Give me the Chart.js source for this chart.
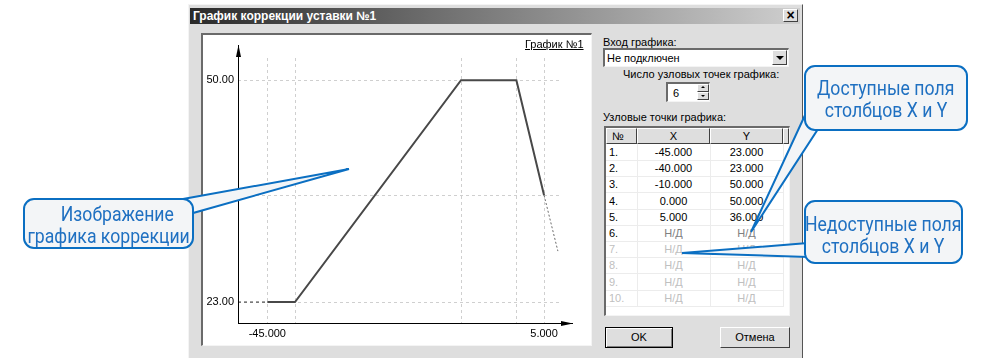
<!DOCTYPE html>
<html>
<head>
<meta charset="utf-8">
<script src="https://cdn.jsdelivr.net/npm/chart.js@4.4.1/dist/chart.umd.min.js"></script>
<style>
  html, body { margin: 0; padding: 0; background: #fff; overflow: hidden; }
  body { width: 982px; height: 358px; position: relative; font-family: "Liberation Sans", Arial, sans-serif; font-size: 11px; color: #000; }
  .abs { position: absolute; }
  .dlg { left: 188px; top: 4px; width: 613px; height: 360px; background: #dedede; border-top: 1px solid #f4f4f4; border-left: 1px solid #f4f4f4; border-right: 1px solid #555; }
  .title { left: 190px; top: 8px; width: 610px; height: 16px; background: linear-gradient(to right, #2a2a2a 0%, #6e6e6e 40%, #cfcfcf 100%); color: #fff; font-weight: bold; font-size: 12px; line-height: 16px; padding-left: 3px; box-sizing: border-box; }
  .raised { background: #dedede; border-top: 1px solid #fff; border-left: 1px solid #fff; border-right: 1px solid #404040; border-bottom: 1px solid #404040; box-sizing: border-box; }
  .sunken { background: #fff; border-top: 2px solid #6a6a6a; border-left: 2px solid #6a6a6a; border-right: 1px solid #f4f4f4; border-bottom: 1px solid #f4f4f4; box-sizing: border-box; }
  .lbl { white-space: nowrap; line-height: 14px; }
  .cell { position: absolute; height: 16px; line-height: 16px; white-space: nowrap; }
  .callout { position: absolute; background: #f3f5f7; border: 2px solid #0b6fc2; border-radius: 11px; box-sizing: border-box; color: #1f70c1; font-family: "Roboto", "Liberation Sans", sans-serif; font-size: 21px; line-height: 22px; white-space: nowrap; }
  .callout div { display: flex; justify-content: center; }
  .callout span { display: inline-block; transform: scaleX(0.84); transform-origin: center; }
</style>
</head>
<body>
<div class="abs dlg"></div>
<div class="abs title">График коррекции уставки №1</div>
<div class="abs raised" style="left:783px;top:9px;width:15px;height:13px;font-weight:bold;font-size:14px;line-height:10px;text-align:center;">×</div>

<!-- chart panel -->
<div class="abs sunken" style="left:201px;top:33px;width:391px;height:313px;"></div>
<canvas id="grafica" class="abs" style="left:203px;top:35px;" width="387" height="310"></canvas>
<div class="abs lbl" style="left:525px;top:37px;text-decoration:underline;">График №1</div>

<!-- right side controls -->
<div class="abs lbl" style="left:603px;top:35px;">Вход графика:</div>
<div class="abs sunken" style="left:603px;top:48px;width:186px;height:19px;"></div>
<div class="abs lbl" style="left:607px;top:51px;">Не подключен</div>
<div class="abs raised" style="left:772px;top:50px;width:15px;height:15px;"></div>
<div class="abs" style="left:776px;top:56px;width:0;height:0;border-left:4px solid transparent;border-right:4px solid transparent;border-top:4px solid #000;"></div>

<div class="abs lbl" style="left:623px;top:67px;">Число узловых точек графика:</div>
<div class="abs sunken" style="left:666px;top:82px;width:44px;height:20px;"></div>
<div class="abs lbl" style="left:673px;top:86px;" id="nodeCount"></div>
<div class="abs raised" style="left:697px;top:84px;width:12px;height:8px;"></div>
<div class="abs raised" style="left:697px;top:92px;width:12px;height:8px;"></div>
<div class="abs" style="left:701px;top:86px;border-left:2px solid transparent;border-right:2px solid transparent;border-bottom:2px solid #000;"></div>
<div class="abs" style="left:701px;top:95px;border-left:2px solid transparent;border-right:2px solid transparent;border-top:2px solid #000;"></div>

<div class="abs lbl" style="left:603px;top:110px;">Узловые точки графика:</div>
<div class="abs sunken" style="left:604px;top:126px;width:186px;height:190px;"></div>
<div id="table" class="abs" style="left:606px;top:128px;width:183px;height:187px;"></div>

<div class="abs raised" style="left:605px;top:327px;width:68px;height:21px;border:1px solid #000;box-shadow: inset 1px 1px #fff, inset -1px -1px #808080;text-align:center;line-height:19px;">OK</div>
<div class="abs raised" style="left:720px;top:327px;width:70px;height:21px;text-align:center;line-height:19px;">Отмена</div>

<!-- callout pointers -->
<svg class="abs" style="left:0;top:0;" width="982" height="358">
  <polygon points="183,199 349,169 193,213" fill="#f3f5f7" stroke="#0b6fc2" stroke-width="2"/>
  <polygon points="806,113 751,232 818,129" fill="#f3f5f7" stroke="#0b6fc2" stroke-width="2"/>
  <polygon points="808,243 682,253 808,257" fill="#f3f5f7" stroke="#0b6fc2" stroke-width="2"/>
</svg>
<div class="callout" style="left:23px;top:198px;width:171px;height:51px;padding-top:3px;"><div style="padding-left:18px;"><span>Изображение</span></div><div><span>графика коррекции</span></div></div>
<div class="callout" style="left:804px;top:65px;width:164px;height:66px;padding-top:10px;"><div><span>Доступные поля</span></div><div><span>столбцов X и Y</span></div></div>
<div class="callout" style="left:804px;top:200px;width:159px;height:64px;padding-top:11px;"><div><span>Недоступные поля</span></div><div><span>столбцов X и Y</span></div></div>

<script>
// точки графика (узловые точки)
const xValues = [-45, -40, -10, 0, 5];
const yValues = [23, 23, 50, 50, 36];
// продолжение за последней точкой (пунктир)
const tailX = [5, 7.5];
const tailY = [36, 29.2];
// сетка и подписи осей
const xTickValues = [-45, -40, -10, 0, 5];
const yTickValues = [23, 36, 50];
const xLabeled = [-45, 5];
const yLabeled = [23, 50];
const xRange = [-50.3, 7.7];
const yRange = [20.45, 52.7];
const nodeCount = 6;
const rowCount = 10;

document.getElementById('nodeCount').textContent = nodeCount;

// таблица узловых точек
const table = document.getElementById('table');
let html = '';
html += '<div class="abs raised" style="left:0;top:0;width:31px;height:16px;line-height:14px;padding-left:5px;">№</div>';
html += '<div class="abs raised" style="left:31px;top:0;width:73px;height:16px;line-height:14px;text-align:center;">X</div>';
html += '<div class="abs raised" style="left:104px;top:0;width:73px;height:16px;line-height:14px;text-align:center;">Y</div>';
html += '<div class="abs raised" style="left:177px;top:0;width:6px;height:16px;"></div>';
for (let i = 0; i < rowCount; i++) {
  const top = 16 + i * 16.2;
  const has = i < xValues.length;
  const numColor = i <= xValues.length ? '#000' : '#c0c0c0';
  const valColor = has ? '#000' : (i == xValues.length ? '#808080' : '#c0c0c0');
  const xs = has ? xValues[i].toFixed(3) : 'Н/Д';
  const ys = has ? yValues[i].toFixed(3) : 'Н/Д';
  html += '<div class="abs" style="left:0;top:' + (top + 16) + 'px;width:177px;border-top:1px solid #ececec;"></div>';
  html += '<div class="cell" style="left:3px;top:' + top + 'px;color:' + numColor + ';">' + (i + 1) + '.</div>';
  html += '<div class="cell" style="left:31px;width:73px;text-align:center;top:' + top + 'px;color:' + valColor + ';">' + xs + '</div>';
  html += '<div class="cell" style="left:104px;width:73px;text-align:center;top:' + top + 'px;color:' + valColor + ';">' + ys + '</div>';
}
html += '<div class="abs" style="left:31px;top:16px;height:163px;border-left:1px solid #ececec;"></div>';
html += '<div class="abs" style="left:104px;top:16px;height:163px;border-left:1px solid #ececec;"></div>';
html += '<div class="abs" style="left:177px;top:16px;height:163px;border-left:1px solid #ececec;"></div>';
table.innerHTML = html;

// оси со стрелками
const arrowAxes = {
  id: 'arrowAxes',
  afterDatasetsDraw(chart) {
    const c = chart.ctx, a = chart.chartArea;
    c.save();
    c.strokeStyle = '#000';
    c.fillStyle = '#000';
    c.lineWidth = 1;
    c.beginPath();
    c.moveTo(a.left + 0.5, a.bottom + 0.5);
    c.lineTo(a.left + 0.5, a.top - 13);
    c.moveTo(a.left, a.bottom + 0.5);
    c.lineTo(a.right + 14, a.bottom + 0.5);
    c.stroke();
    c.beginPath();
    c.moveTo(a.left + 0.5, a.top - 13);
    c.lineTo(a.left - 2, a.top - 1);
    c.lineTo(a.left + 3, a.top - 1);
    c.closePath();
    c.fill();
    c.beginPath();
    c.moveTo(a.right + 14, a.bottom + 0.5);
    c.lineTo(a.right + 2, a.bottom - 2);
    c.lineTo(a.right + 2, a.bottom + 3);
    c.closePath();
    c.fill();
    c.restore();
  }
};

const pts = xValues.map((x, i) => ({ x: x, y: yValues[i] }));
const tail = tailX.map((x, i) => ({ x: x, y: tailY[i] }));
const lead = [{ x: xRange[0], y: yValues[0] }, { x: xValues[0], y: yValues[0] }];

const ctx = document.getElementById('grafica');
const grafica = new Chart(ctx, {
  type: 'scatter',
  data: {
    datasets: [
      { data: pts, showLine: true, borderColor: '#484848', borderWidth: 2, pointRadius: 0, tension: 0 },
      { data: tail, showLine: true, borderColor: '#6a6a6a', borderWidth: 1, borderDash: [2, 2], pointRadius: 0 },
      { data: lead, showLine: true, borderColor: '#333', borderWidth: 1, borderDash: [3, 3], pointRadius: 0 }
    ]
  },
  options: {
    responsive: false,
    animation: false,
    layout: { padding: { left: 0, top: 23, right: 31, bottom: 0 } },
    plugins: { legend: { display: false }, tooltip: { enabled: false } },
    scales: {
      x: {
        type: 'linear',
        min: xRange[0],
        max: xRange[1],
        afterBuildTicks: s => { s.ticks = xTickValues.map(v => ({ value: v })); },
        afterFit: s => { s.height = 22; },
        grid: { color: '#cfcfcf', drawTicks: false },
        border: { display: false, dash: [3, 3] },
        ticks: {
          autoSkip: false, maxRotation: 0, padding: 4, color: '#000',
          font: { family: 'Liberation Sans', size: 11 },
          callback: v => xLabeled.includes(v) ? v.toFixed(3) : ''
        }
      },
      y: {
        type: 'linear',
        min: yRange[0],
        max: yRange[1],
        afterBuildTicks: s => { s.ticks = yTickValues.map(v => ({ value: v })); },
        afterFit: s => { s.width = 35; },
        grid: { color: '#cfcfcf', drawTicks: false },
        border: { display: false, dash: [3, 3] },
        ticks: {
          autoSkip: false, padding: 4, color: '#000',
          font: { family: 'Liberation Sans', size: 11 },
          callback: v => yLabeled.includes(v) ? v.toFixed(2) : ''
        }
      }
    }
  },
  plugins: [arrowAxes]
});
</script>
</body>
</html>
